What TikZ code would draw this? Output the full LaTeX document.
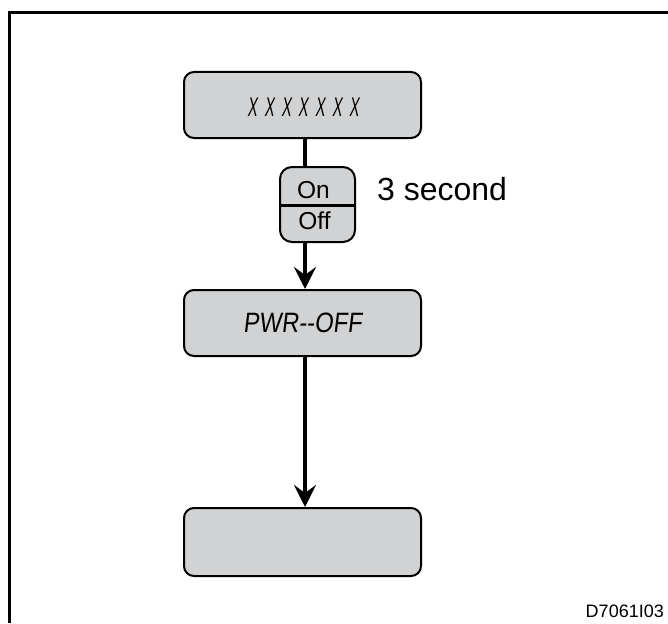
\documentclass[tikz,border=0pt]{standalone}
\usepackage{fontspec}
\setmainfont{Liberation Sans}
\newfontfamily\lcdfont[FakeStretch=0.85,FakeSlant=0.12]{Liberation Sans}
\newfontfamily\lcdxfont[FakeStretch=0.53,FakeSlant=0.12]{Liberation Sans}
\usetikzlibrary{arrows.meta,calc}
\definecolor{boxgray}{RGB}{209,210,212}
\tikzset{
  dispbox/.style={draw=black, line width=2pt, fill=boxgray, rounded corners=10pt,
    minimum width=237pt, minimum height=66pt, inner sep=0pt},
  swbox/.style={draw=black, line width=2pt, fill=boxgray, rounded corners=12pt,
    minimum width=75pt, minimum height=75pt, inner sep=0pt},
  conn/.style={line width=4.5pt, draw=black},
  arr/.style={conn, -{Stealth[length=22pt,width=22pt,inset=8pt]}},
  lbl/.style={inner sep=0pt, text=black}
}
\newcommand{\xspacing}{\spaceskip=7.4pt\relax}
\begin{document}
\begin{tikzpicture}[x=1pt,y=-1pt]
\useasboundingbox (0,0) rectangle (668,623);
% frame
\draw[line width=3pt] (9.5,623) -- (9.5,12.5) -- (668,12.5);
% nodes
\node[dispbox] (box1) at (302.5,105) {};
\node[lbl, font={\lcdxfont\fontsize{27}{27}\selectfont}] (xs) at (303,107) {\xspacing X X X X X X X};
\node[swbox] (sw) at (317.5,204.5) {};
\draw[line width=3pt] (sw.west |- 0,205.5) -- (sw.east |- 0,205.5);
\node[lbl, font={\fontsize{24.5}{24.5}\selectfont}] (on) at (313.5,190.5) {On};
\node[lbl, font={\fontsize{24.5}{24.5}\selectfont}] (off) at (314.5,221) {Off};
\node[lbl, anchor=west, font={\fontsize{32}{32}\selectfont}] (sec) at (377,189.5) {3 second};
\node[dispbox] (box2) at (302.5,323) {};
\node[lbl, font={\lcdfont\fontsize{28}{28}\selectfont}] (pwr) at (302.5,323) {PWR--OFF};
\node[dispbox, minimum height=68pt] (box3) at (302.5,542) {};
\node[lbl, anchor=east, font={\fontsize{18}{18}\selectfont}] (code) at (664,611) {D7061I03};
% connectors
\draw[conn] ([xshift=2.5pt]box1.south) -- ([xshift=2.5pt]box1.south |- sw.north);
\draw[arr] ([xshift=2.5pt]box1.south |- sw.south) -- ([xshift=2.5pt]box2.north);
\draw[arr] ([xshift=2.5pt]box2.south) -- ([xshift=2.5pt]box3.north);
\end{tikzpicture}
\end{document}
